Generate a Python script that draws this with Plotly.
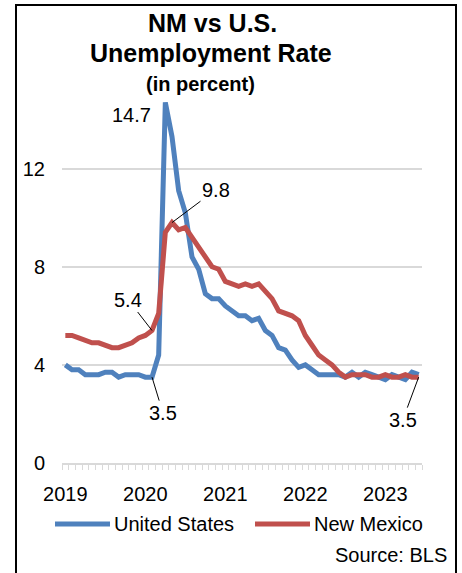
import plotly.graph_objects as go

# Monthly unemployment rate, Jan 2019 - Jun 2023 (percent, seasonally adjusted)
years = [2019, 2020, 2021, 2022, 2023]
month_names = ["Jan", "Feb", "Mar", "Apr", "May", "Jun",
               "Jul", "Aug", "Sep", "Oct", "Nov", "Dec"]
months = [f"{m} {y}" for y in years for m in month_names][:54]

us_rate = [
    4.0, 3.8, 3.8, 3.6, 3.6, 3.6, 3.7, 3.7, 3.5, 3.6, 3.6, 3.6,
    3.5, 3.5, 4.4, 14.7, 13.3, 11.1, 10.2, 8.4, 7.9, 6.9, 6.7, 6.7,
    6.4, 6.2, 6.0, 6.0, 5.8, 5.9, 5.4, 5.2, 4.7, 4.6, 4.2, 3.9,
    4.0, 3.8, 3.6, 3.6, 3.6, 3.6, 3.5, 3.7, 3.5, 3.7, 3.6, 3.5,
    3.4, 3.6, 3.5, 3.4, 3.7, 3.6,
]
nm_rate = [
    5.2, 5.2, 5.1, 5.0, 4.9, 4.9, 4.8, 4.7, 4.7, 4.8, 4.9, 5.1,
    5.2, 5.4, 6.1, 9.4, 9.8, 9.5, 9.6, 9.2, 8.8, 8.4, 8.0, 7.9,
    7.4, 7.3, 7.2, 7.3, 7.2, 7.3, 7.0, 6.7, 6.2, 6.1, 6.0, 5.8,
    5.2, 4.8, 4.4, 4.2, 4.0, 3.7, 3.5, 3.6, 3.6, 3.6, 3.5, 3.5,
    3.6, 3.5, 3.5, 3.6, 3.5, 3.5,
]
y_ticks = [0, 4, 8, 12]

BLUE = "#4f81bd"
RED = "#c0504d"
GRID = "#d9d9d9"
FONT = "Liberation Sans, Arial, sans-serif"

x = list(range(len(months)))
year_pos = [months.index(f"Jan {y}") for y in years]

fig = go.Figure()
fig.add_trace(go.Scatter(x=x, y=us_rate, mode="lines", name="United States",
                         line=dict(color=BLUE, width=5), hoverinfo="skip"))
fig.add_trace(go.Scatter(x=x, y=nm_rate, mode="lines", name="New Mexico",
                         line=dict(color=RED, width=5), hoverinfo="skip"))


def callout(series, idx, text, ax, ay, arrow=True, xs=0, ys=0):
    fig.add_annotation(x=x[idx], y=series[idx], text=text, showarrow=arrow,
                       ax=ax, ay=ay, arrowhead=0, arrowwidth=1,
                       arrowcolor="black", standoff=0, startstandoff=0,
                       xshift=xs, yshift=ys,
                       font=dict(family=FONT, size=20, color="black"))


i_us_peak = us_rate.index(max(us_rate))
i_nm_peak = nm_rate.index(max(nm_rate))
i_pre = months.index("Feb 2020")
i_last = len(months) - 1

callout(us_rate, i_us_peak, f"{us_rate[i_us_peak]:.1f}", 0, 0, arrow=False, xs=-34, ys=-13)
callout(nm_rate, i_nm_peak, f"{nm_rate[i_nm_peak]:.1f}", 44, -33)
callout(nm_rate, i_pre, f"{nm_rate[i_pre]:.1f}", -24, -31)
callout(us_rate, i_pre, f"{us_rate[i_pre]:.1f}", 11, 36)
callout(nm_rate, i_last, f"{nm_rate[i_last]:.1f}", -16, 43)

# Title block
for txt, py, size, cx in [("NM vs U.S.", 23, 25, 212),
                          ("Unemployment Rate", 53, 25, 211),
                          ("(in percent)", 84, 20, 200)]:
    fig.add_annotation(x=(cx - 62) / 360, y=(463 - py) / 368, xref="paper", yref="paper",
                       text=f"<b>{txt}</b>", showarrow=False, xanchor="center", yanchor="middle",
                       font=dict(family=FONT, size=size, color="black"))

# Legend drawn below the axis
legend_items = [("United States", BLUE, 55, 110), ("New Mexico", RED, 255, 310)]
for name, color, x0, x1 in legend_items:
    fig.add_shape(type="line", xref="paper", yref="paper",
                  x0=(x0 - 62) / 360, x1=(x1 - 62) / 360,
                  y0=(463 - 524) / 368, y1=(463 - 524) / 368,
                  line=dict(color=color, width=5))
    fig.add_annotation(x=(x1 + 2 - 62) / 360, y=(463 - 524) / 368, xref="paper", yref="paper",
                       text=name, showarrow=False, xanchor="left", yanchor="middle",
                       font=dict(family=FONT, size=20, color="black"))

fig.add_annotation(x=(449 - 62) / 360, y=(463 - 555) / 368, xref="paper", yref="paper",
                   text="Source: BLS", showarrow=False, xanchor="right", yanchor="middle",
                   font=dict(family=FONT, size=20, color="black"))

# Outer frame
fig.add_shape(type="rect", xref="paper", yref="paper",
              x0=(16 - 62) / 360, x1=(456 - 62) / 360,
              y0=(463 - 590) / 368, y1=(463 - 5) / 368,
              line=dict(color="black", width=2), fillcolor="rgba(0,0,0,0)")

fig.update_layout(
    width=462, height=573,
    margin=dict(l=62, r=40, t=95, b=110),
    paper_bgcolor="white", plot_bgcolor="white",
    showlegend=False,
    font=dict(family=FONT, size=20, color="black"),
    xaxis=dict(
        range=[-0.5, len(months) - 0.5],
        tickmode="array", tickvals=year_pos, ticktext=[str(y) for y in years],
        ticks="", ticklabelstandoff=12,
        showgrid=False, zeroline=False,
        showline=True, linecolor=GRID, linewidth=1.5,
        minor=dict(tickmode="array", tickvals=[i - 0.5 for i in range(len(months) + 1)],
                   ticks="outside", ticklen=5, tickcolor=GRID, tickwidth=1, showgrid=False),
        tickfont=dict(family=FONT, size=20, color="black"),
    ),
    yaxis=dict(
        range=[0, 15],
        tickmode="array", tickvals=y_ticks,
        ticks="", ticklabelstandoff=16,
        showgrid=True, gridcolor=GRID, gridwidth=1.5,
        zeroline=False, showline=False,
        tickfont=dict(family=FONT, size=20, color="black"),
    ),
)

fig.write_html("out.html")
